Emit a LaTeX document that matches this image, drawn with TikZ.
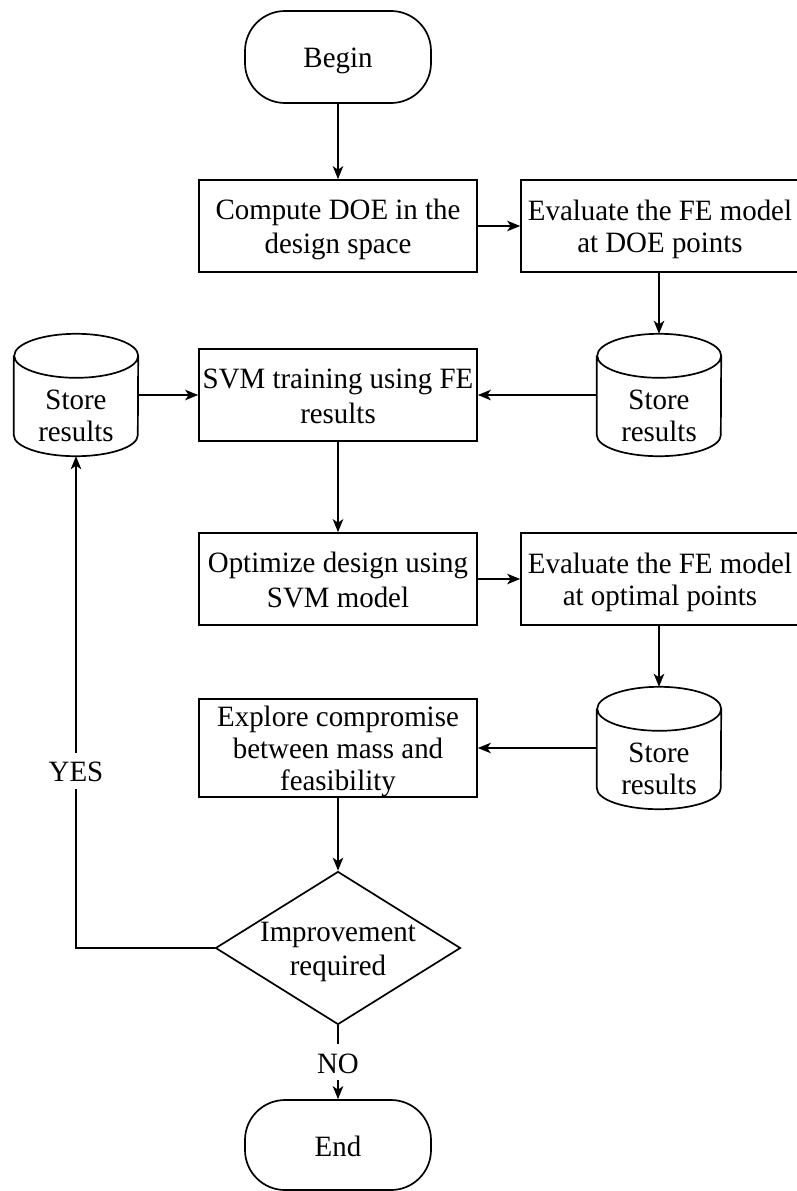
\documentclass[tikz,border=0pt]{standalone}
\usepackage{fontspec}
\setmainfont[FakeStretch=0.98]{Liberation Serif}
\usetikzlibrary{shapes.geometric,arrows.meta}

% fixed line box so every text sits at the same place in its shape
\newcommand\linebox{\rule[-5pt]{0pt}{32pt}}
\newcommand\lines[1]{\linebox#1\linebox}

% outline of a storage drum drawn around a plain rectangular node
\newcommand\drum[1]{%
  \draw[line width=1.7pt]
    ([yshift=-22pt]#1.north west) -- ([yshift=21pt]#1.south west)
    arc[start angle=180,end angle=360,x radius=62pt,y radius=21pt]
    -- ([yshift=-22pt]#1.north east)
    arc[start angle=0,end angle=180,x radius=62pt,y radius=22pt]
    arc[start angle=180,end angle=360,x radius=62pt,y radius=22pt];}

\tikzset{
  proc/.style={rectangle, draw, line width=1.7pt, minimum width=278pt,
    minimum height=92pt, inner sep=0pt, align=center},
  term/.style={rectangle, draw, line width=1.7pt, rounded corners=40pt,
    minimum width=186pt, minimum height=92pt, inner sep=0pt},
  drumbox/.style={rectangle, minimum width=124pt, minimum height=122pt, inner sep=0pt},
  inner text/.style={align=center, inner sep=0pt},
  decision/.style={diamond, draw, line width=1.7pt, inner sep=0pt,
    minimum width=245pt, minimum height=153pt},
  flow/.style={draw, line width=1.7pt, -{Stealth[length=13pt,width=10.5pt,inset=3.5pt]}},
  tag/.style={fill=white, inner sep=2pt}
}

\begin{document}
\begin{tikzpicture}[x=1pt, y=-1pt, font=\fontsize{29.5pt}{32pt}\selectfont]
\useasboundingbox (0,0) rectangle (797,1191);

% process steps
\node[term] (begin) at (338,57) {\lines{Begin}};
\node[proc] (doe) at (338,226) {\lines{Compute DOE in the\\design space}};
\node[proc] (evaldoe) at (660,226) {\lines{Evaluate the FE model\\at DOE points}};
\node[proc] (svm) at (338,395) {\lines{SVM training using FE\\results}};
\node[proc] (opt) at (338,579) {\lines{Optimize design using\\SVM model}};
\node[proc] (evalopt) at (660,579) {\lines{Evaluate the FE model\\at optimal points}};
\node[proc] (explore) at (338,748) {\lines{Explore compromise\\between mass and\\feasibility}};
\node[decision] (improve) at (338,948) {};
\node[inner text] (improvet) at (improve.center) {\lines{Improvement\\required}};
\node[term, minimum height=90pt] (end) at (338,1145) {\lines{End}};

% result stores
\node[drumbox] (storeA) at (76,395) {};
\drum{storeA}
\node[inner text] (storeAt) at ([yshift=-19pt]storeA.center) {\lines{Store\\results}};

\node[drumbox] (storeB) at (659,395) {};
\drum{storeB}
\node[inner text] (storeBt) at ([yshift=-19pt]storeB.center) {\lines{Store\\results}};

\node[drumbox] (storeC) at (659,748) {};
\drum{storeC}
\node[inner text] (storeCt) at ([yshift=-19pt]storeC.center) {\lines{Store\\results}};

% connectors
\draw[flow] (begin) -- (doe);
\draw[flow] (doe) -- (evaldoe);
\draw[flow] (evaldoe.south -| storeB.north) -- (storeB.north);
\draw[flow] (storeB.west) -- (svm.east);
\draw[flow] (storeA.east) -- (svm.west);
\draw[flow] (svm) -- (opt);
\draw[flow] (opt) -- (evalopt);
\draw[flow] (evalopt.south -| storeC.north) -- (storeC.north);
\draw[flow] (storeC.west) -- (explore.east);
\draw[flow] (explore) -- (improve);
\draw[flow] (improve.west) -| (storeA.south) node[tag, pos=0.68] {\lines{YES}};
\draw[flow] (improve.south) -- (end.north) node[tag, midway] {\lines{NO}};
\end{tikzpicture}
\end{document}
